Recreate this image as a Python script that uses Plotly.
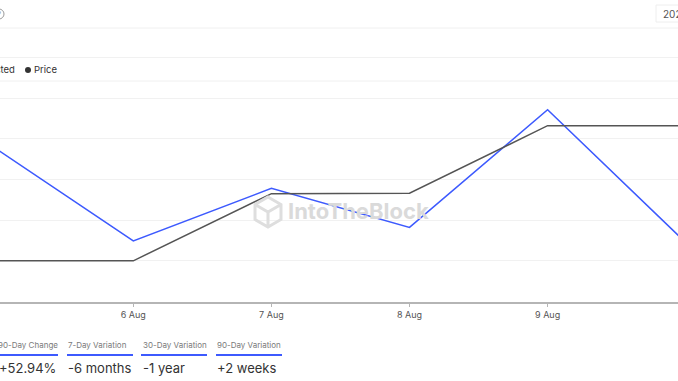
import datetime as dt
import plotly.graph_objects as go

# ---------------- data ----------------
dates = ["2024-08-05", "2024-08-06", "2024-08-07", "2024-08-08", "2024-08-09", "2024-08-10"]
tick_labels = ["5 Aug", "6 Aug", "7 Aug", "8 Aug", "9 Aug", "10 Aug"]
predicted = [3.77, 1.49, 2.78, 1.82, 4.71, 1.45]
price = [1.00, 1.00, 2.65, 2.66, 4.32, 4.32]
stat_labels = ["90-Day Change", "7-Day Variation", "30-Day Variation", "90-Day Variation"]
stat_values = ["+52.94%", "-6 months", "-1 year", "+2 weeks"]

W, H = 678, 381
FONT = "Inter, Noto Sans, sans-serif"


def px(x):
    return x / W


def py(y):
    return 1 - y / H


# axis geometry (pixels)
y_bottom, y_step = 301.5, 40.7
y_top_val = 6.2
y_top = y_bottom - y_top_val * y_step
day_px = 138.1
first_px = -4.8  # pixel of first date

d0 = dt.datetime(2024, 8, 5)
x_start = d0 + dt.timedelta(days=(0 - first_px) / day_px)
x_end = d0 + dt.timedelta(days=(W - first_px) / day_px)

fig = go.Figure()
fig.add_trace(go.Scatter(x=dates, y=predicted, mode="lines", name="Predicted",
                         line=dict(color="#3d5afe", width=1.5)))
fig.add_trace(go.Scatter(x=dates, y=price, mode="lines", name="Price",
                         line=dict(color="#555555", width=1.5)))

annotations = []
shapes = []


def text(t, x, y, size, color, xanchor="left", **kw):
    annotations.append(dict(text=t, x=px(x), y=py(y), xref="paper", yref="paper",
                            xanchor=xanchor, yanchor="middle", showarrow=False,
                            borderpad=0, font=dict(size=size, color=color, family=FONT), **kw))


# header separator, legend separator
for yy in (28, 81):
    shapes.append(dict(type="line", xref="paper", yref="paper", x0=0, x1=1,
                       y0=py(yy), y1=py(yy), line=dict(color="#f0f0f0", width=1)))

# info icon (mostly clipped)
shapes.append(dict(type="circle", xref="paper", yref="paper",
                   x0=px(-6), x1=px(4), y0=py(19), y1=py(9),
                   line=dict(color="#9a9a9a", width=1)))
text("?", -1, 14, 8, "#9a9a9a", xanchor="center")

# date box top right
shapes.append(dict(type="rect", xref="paper", yref="paper",
                   x0=px(656), x1=px(720), y0=py(22), y1=py(5),
                   line=dict(color="#eeeeee", width=1), fillcolor="white"))
text("2024-08-10", 662, 13.5, 10, "#555555")

# legend
text("Predicted", 16, 70, 9.5, "#333333", xanchor="right")
shapes.append(dict(type="circle", xref="paper", yref="paper",
                   x0=px(25), x1=px(31), y0=py(73), y1=py(67),
                   fillcolor="#333333", line=dict(width=0)))
text("Price", 33, 70, 9.5, "#333333")

# watermark
text("<b>IntoTheBlock</b>", 358, 211, 22, "#dadada", xanchor="center")
cx, cy, r = 268, 212, 15
hexpts = [(cx, cy - r), (cx + 0.866 * r, cy - r / 2), (cx + 0.866 * r, cy + r / 2),
          (cx, cy + r), (cx - 0.866 * r, cy + r / 2), (cx - 0.866 * r, cy - r / 2)]
path = "M " + " L ".join(f"{px(a)},{py(b)}" for a, b in hexpts) + " Z"
path += f" M {px(cx - 0.866 * r)},{py(cy - r / 2)} L {px(cx)},{py(cy)} L {px(cx + 0.866 * r)},{py(cy - r / 2)}"
path += f" M {px(cx)},{py(cy)} L {px(cx)},{py(cy + r)}"
shapes.append(dict(type="path", xref="paper", yref="paper", path=path,
                   line=dict(color="#dedede", width=3)))

# stats row
stat_left = [-3, 67, 142, 216]
under_left = [-8, 67, 141, 216]
for i, (lab, val) in enumerate(zip(stat_labels, stat_values)):
    text(lab, stat_left[i], 345, 8, "#7a7a7a")
    shapes.append(dict(type="line", xref="paper", yref="paper",
                       x0=px(under_left[i]), x1=px(under_left[i] + 66),
                       y0=py(355), y1=py(355), line=dict(color="#3d5afe", width=2)))
    text(val, stat_left[i] + (1 if i == 0 else 0), 368, 13, "#333333")

fig.update_layout(
    width=W, height=H,
    margin=dict(l=0, r=0, t=0, b=0),
    paper_bgcolor="white", plot_bgcolor="white",
    showlegend=False,
    font=dict(family=FONT),
    xaxis=dict(
        type="date",
        range=[x_start.isoformat(), x_end.isoformat()],
        tickvals=dates, ticktext=tick_labels,
        showgrid=False, zeroline=False,
        showline=True, linecolor="#b5b5b5", linewidth=1.5,
        ticks="outside", ticklen=4, tickcolor="#b5b5b5", tickwidth=1,
        tickfont=dict(size=9, color="#555555", family=FONT),
        automargin=False, fixedrange=True,
    ),
    yaxis=dict(
        range=[0, y_top_val],
        domain=[py(y_bottom), py(y_top)],
        tickvals=[0, 1, 2, 3, 4, 5, 6],
        showticklabels=False,
        showgrid=True, gridcolor="#f1f1f1", gridwidth=1,
        zeroline=False, showline=False, ticks="",
        automargin=False, fixedrange=True,
    ),
    shapes=shapes,
    annotations=annotations,
)

fig.write_html("out.html")
